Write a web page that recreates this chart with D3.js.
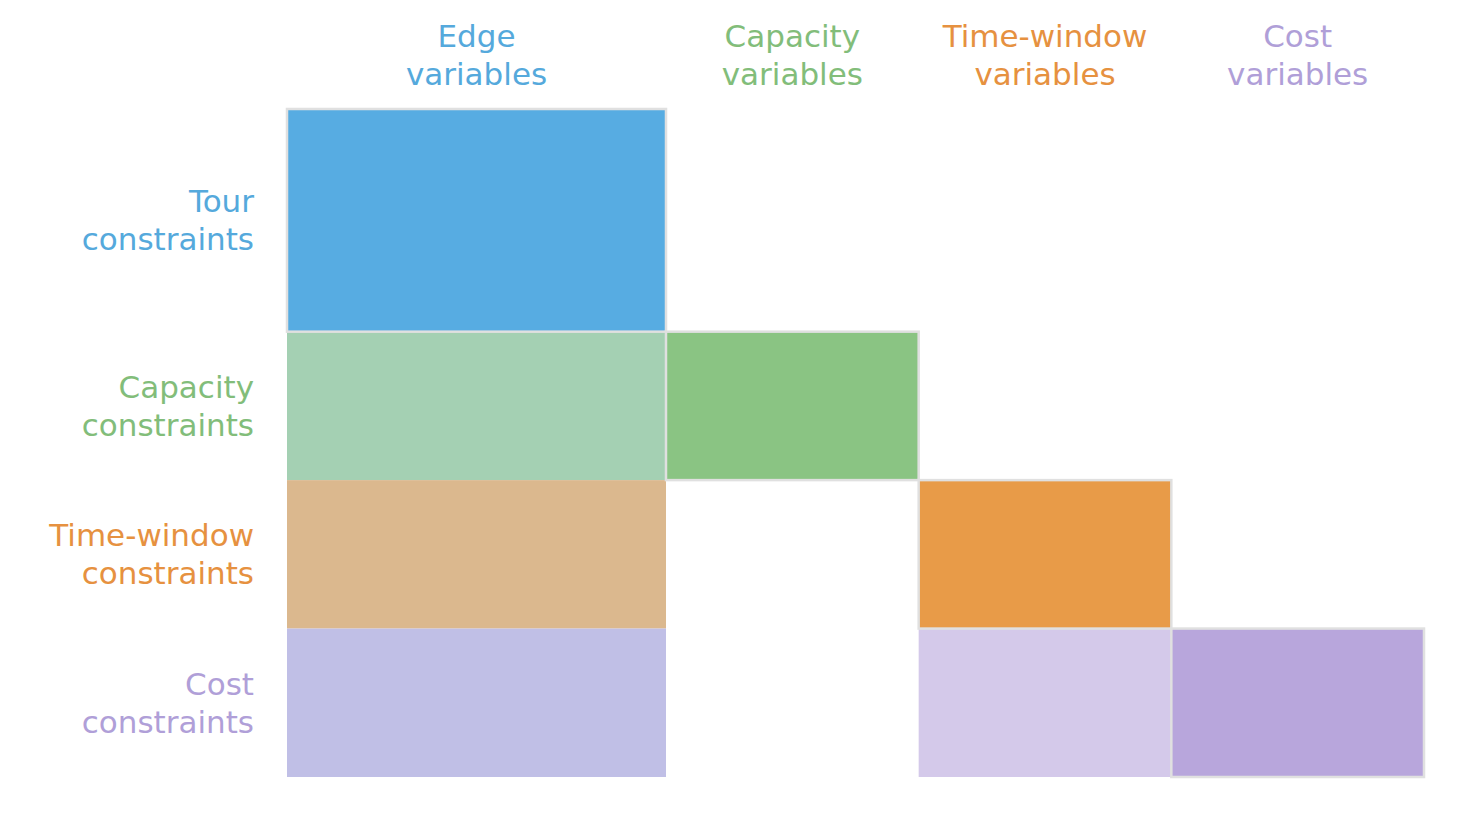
<!DOCTYPE html>
<html>
<head>
<meta charset="utf-8">
<script src="https://cdn.jsdelivr.net/npm/d3@7"></script>
<style>
  body { margin: 0; background: #fff; }
  text { font-family: "DejaVu Sans", sans-serif; font-size: 31px; }
</style>
</head>
<body>
<div class="chart"></div>
<script>
// ---- data
var columns = ["Edge\nvariables", "Capacity\nvariables", "Time-window\nvariables", "Cost\nvariables"];
var rows = ["Tour\nconstraints", "Capacity\nconstraints", "Time-window\nconstraints", "Cost\nconstraints"];
var weights = [1.5, 1, 1, 1];
var labelColors = ["#55a9dc", "#82bd7a", "#e69140", "#b09fd8"];
// [row, col, fill, diagonal]
var cells = [
  [0, 0, "#57acE2", true],
  [1, 0, "#a4d0b3", false],
  [1, 1, "#8ac483", true],
  [2, 0, "#dbb88e", false],
  [2, 2, "#e89b48", true],
  [3, 0, "#c0bfe6", false],
  [3, 2, "#d4c9ea", false],
  [3, 3, "#b8a6dc", true]
];

// cumulative offsets
var offs = [0];
weights.forEach(function(w, i) { offs.push(offs[i] + w); });

var width = 1465, height = 835;
var svg = d3.select(".chart").append("svg")
    .attr("width", width).attr("height", height);

var x = d3.scaleLinear().domain([0, 4.5]).range([287, 1424]);
var y = d3.scaleLinear().domain([0, 4.5]).range([109, 777]);

// ---- cells: off-diagonal first, diagonal on top with border
cells.sort(function(a, b) { return a[3] - b[3]; });
svg.selectAll("rect.cell")
  .data(cells)
  .enter().append("rect")
    .attr("class", "cell")
    .attr("x", function(d) { return x(offs[d[1]]); })
    .attr("y", function(d) { return y(offs[d[0]]); })
    .attr("width", function(d) { return x(offs[d[1] + 1]) - x(offs[d[1]]); })
    .attr("height", function(d) { return y(offs[d[0] + 1]) - y(offs[d[0]]); })
    .attr("fill", function(d) { return d[2]; })
    .attr("stroke", function(d) { return d[3] ? "#e0e0e0" : "none"; })
    .attr("stroke-width", 2.5);

// ---- column labels
columns.forEach(function(c, i) {
  var cx = (x(offs[i]) + x(offs[i + 1])) / 2;
  var t = svg.append("text")
      .attr("text-anchor", "middle")
      .attr("fill", labelColors[i]);
  c.split("\n").forEach(function(line, j) {
    t.append("tspan").attr("x", cx).attr("y", 36 + j * 38)
      .attr("dominant-baseline", "central").text(line);
  });
});

// ---- row labels
rows.forEach(function(r, i) {
  var cy = (y(offs[i]) + y(offs[i + 1])) / 2;
  var t = svg.append("text")
      .attr("text-anchor", "end")
      .attr("fill", labelColors[i]);
  r.split("\n").forEach(function(line, j) {
    t.append("tspan").attr("x", 254).attr("y", cy - 19 + j * 38)
      .attr("dominant-baseline", "central").text(line);
  });
});
</script>
</body>
</html>
